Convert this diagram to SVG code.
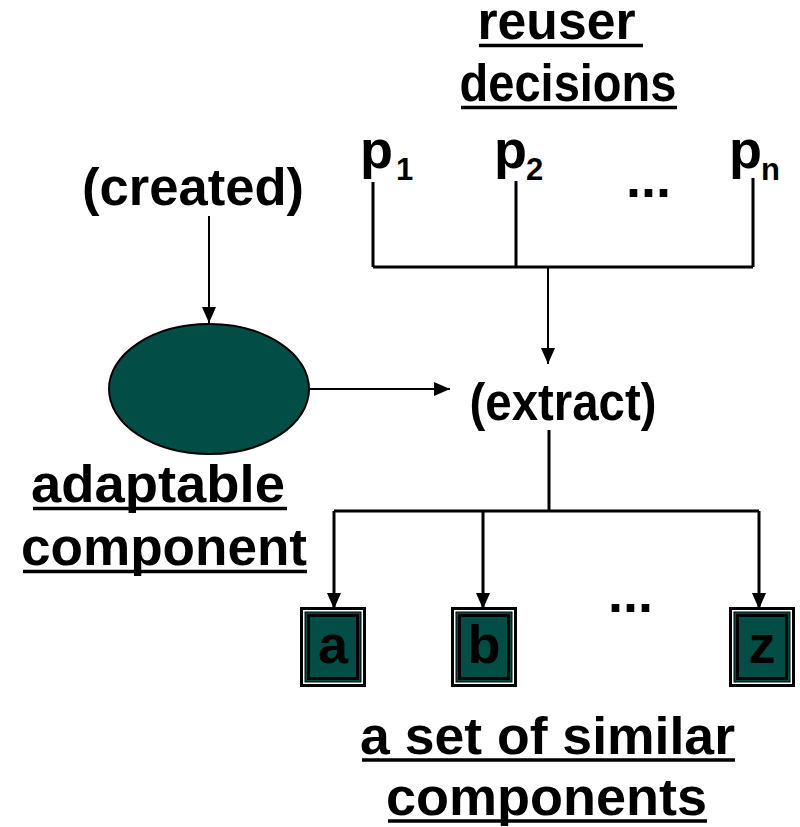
<svg xmlns="http://www.w3.org/2000/svg" width="800" height="827" viewBox="0 0 800 827">
  <style>
    .t { font-family: "Liberation Sans", Arial, sans-serif; font-weight: bold; fill: #000; }
    .lbl { font-size: 51px; text-anchor: middle; }
    .ul { stroke: #000; stroke-width: 3.5; fill: none; }
    .wire { stroke: #000; stroke-width: 3; fill: none; }
    .thin { stroke: #000; stroke-width: 2; fill: none; }
    .teal { fill: #024d45; }
  </style>
  <defs>
    <marker id="arrow" viewBox="0 0 16 14" refX="16" refY="7" markerWidth="16" markerHeight="14" markerUnits="userSpaceOnUse" orient="auto">
      <path d="M0,0 L16,7 L0,14 Z" fill="#000"/>
    </marker>
    <!-- framed component box, origin at its top-left corner -->
    <g id="box">
      <rect x="1.5" y="1.5" width="63" height="77" fill="none" stroke="#000" stroke-width="3"/>
      <rect x="3.75" y="3.75" width="58.5" height="72.5" fill="none" stroke="#fff" stroke-width="1.5"/>
      <rect x="5" y="5" width="56" height="70" class="teal" stroke="#000" stroke-width="1"/>
      <rect x="8.5" y="8.5" width="49" height="63" class="teal" stroke="#000" stroke-width="3"/>
    </g>
  </defs>

  <!-- reuser decisions heading -->
  <g id="reuser-decisions">
    <text class="t lbl" x="556.5" y="39" textLength="158" lengthAdjust="spacingAndGlyphs">reuser</text>
    <line class="ul" x1="479" y1="45.5" x2="643" y2="45.5"/>
    <text class="t lbl" x="568" y="101" textLength="217" lengthAdjust="spacingAndGlyphs">decisions</text>
    <line class="ul" x1="461" y1="107.5" x2="677" y2="107.5"/>
  </g>

  <!-- parameters -->
  <g id="p1">
    <text class="t" font-size="54" x="360" y="168">p<tspan x="396" y="180" font-size="31">1</tspan></text>
  </g>
  <g id="p2">
    <text class="t" font-size="54" x="494" y="168">p<tspan x="526" y="180" font-size="31">2</tspan></text>
  </g>
  <g id="p-dots">
    <text class="t" font-size="54" x="626" y="197">...</text>
  </g>
  <g id="pn">
    <text class="t" font-size="54" x="729" y="168">p<tspan x="761" y="180" font-size="31">n</tspan></text>
  </g>

  <!-- created -->
  <g id="created">
    <text class="t lbl" x="193" y="205" textLength="222" lengthAdjust="spacingAndGlyphs">(created)</text>
  </g>

  <!-- adaptable component -->
  <g id="adaptable-component">
    <ellipse cx="209" cy="389" rx="100" ry="65" class="teal" stroke="#000" stroke-width="2"/>
    <text class="t lbl" x="158" y="502" textLength="254" lengthAdjust="spacingAndGlyphs">adaptable</text>
    <line class="ul" x1="33" y1="508.5" x2="287" y2="508.5"/>
    <text class="t lbl" x="164" y="565" textLength="286" lengthAdjust="spacingAndGlyphs">component</text>
    <line class="ul" x1="23" y1="571.5" x2="307" y2="571.5"/>
  </g>

  <!-- extract -->
  <g id="extract">
    <text class="t lbl" x="563" y="420" textLength="187" lengthAdjust="spacingAndGlyphs">(extract)</text>
  </g>

  <!-- resulting components -->
  <g id="comp-a">
    <use href="#box" x="300" y="607"/>
    <text class="t" font-size="54" text-anchor="middle" x="333" y="663">a</text>
  </g>
  <g id="comp-b">
    <use href="#box" x="451" y="607"/>
    <text class="t" font-size="54" text-anchor="middle" x="484" y="663">b</text>
  </g>
  <g id="comp-dots">
    <text class="t" font-size="54" x="608" y="612">...</text>
  </g>
  <g id="comp-z">
    <use href="#box" x="729" y="607"/>
    <text class="t" font-size="54" text-anchor="middle" x="762" y="663">z</text>
  </g>

  <g id="set-label">
    <text class="t lbl" x="547.5" y="754" textLength="375" lengthAdjust="spacingAndGlyphs">a set of similar</text>
    <line class="ul" x1="362" y1="760" x2="735" y2="760"/>
    <text class="t lbl" x="546.5" y="815" textLength="321" lengthAdjust="spacingAndGlyphs">components</text>
    <line class="ul" x1="388" y1="821" x2="707" y2="821"/>
  </g>

  <!-- connectors -->
  <g id="connectors">
    <line class="thin" x1="209" y1="216" x2="209" y2="323" marker-end="url(#arrow)"/>
    <line class="thin" x1="310" y1="389" x2="450" y2="389" marker-end="url(#arrow)"/>

    <path class="wire" d="M373,182 V267 M516,181 V267 M753,178 V267 M373,267 H753"/>
    <line class="thin" x1="548" y1="267" x2="548" y2="364" marker-end="url(#arrow)"/>

    <path class="wire" d="M549,430 V511 M334,511 H759"/>
    <line class="wire" x1="334" y1="511" x2="334" y2="609" marker-end="url(#arrow)"/>
    <line class="wire" x1="483" y1="511" x2="483" y2="609" marker-end="url(#arrow)"/>
    <line class="wire" x1="759" y1="511" x2="759" y2="609" marker-end="url(#arrow)"/>
  </g>
</svg>
